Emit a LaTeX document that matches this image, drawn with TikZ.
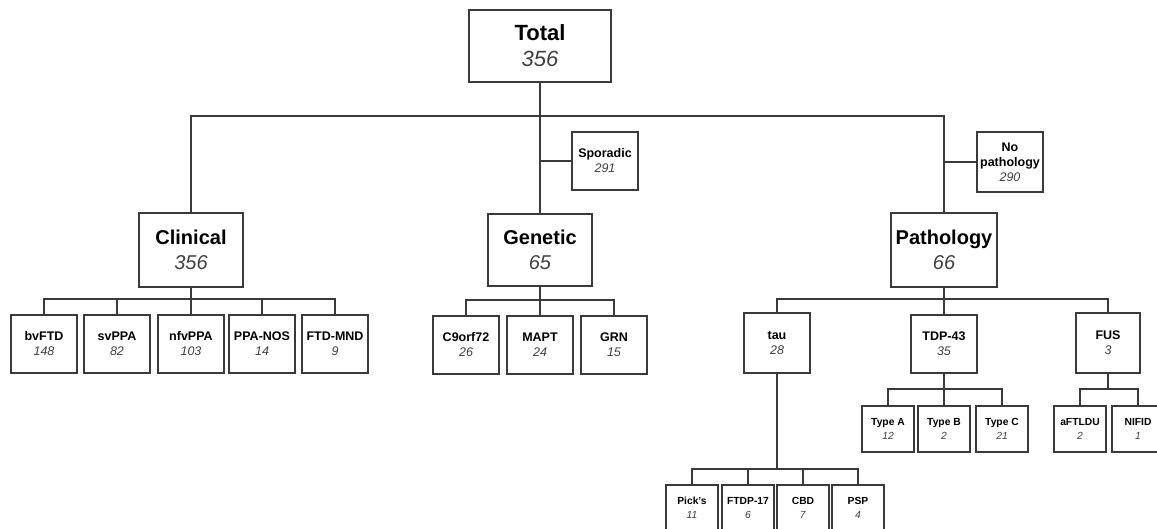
\documentclass[tikz,border=0pt]{standalone}
\usepackage{fontspec}
\setmainfont{Liberation Sans}
\usetikzlibrary{calc}
\definecolor{numgray}{HTML}{404040}
\definecolor{linegray}{HTML}{3A3A3A}
\newcommand{\lab}[2]{\textbf{#1}\\\textcolor{numgray}{\textit{#2}}}
\tikzset{
  box/.style={draw=linegray, line width=1.7pt, fill=white, align=center, inner sep=0pt},
  huge/.style={box, font=\fontsize{22}{26}\selectfont},
  big/.style={box, font=\fontsize{20}{25}\selectfont},
  mid/.style={box, font=\fontsize{12.5}{15}\selectfont},
  small/.style={box, font=\fontsize{10.3}{14}\selectfont},
  conn/.style={draw=linegray, line width=1.7pt},
}
\begin{document}
\begin{tikzpicture}[x=1pt, y=-1pt]
\clip (0,0) rectangle (1157,528);
\fill[white] (0,0) rectangle (1157,528);
% top level
\node[huge, minimum width=142pt, minimum height=72pt] (total) at (540,46) {\lab{Total}{356}};
\node[big, minimum width=104pt, minimum height=74pt] (clinical) at (191,250) {\lab{Clinical}{356}};
\node[big, minimum width=104pt, minimum height=72pt] (genetic) at (540,250) {\lab{Genetic}{65}};
\node[big, minimum width=106pt, minimum height=74pt] (pathology) at (944,250) {\lab{Pathology}{66}};
\node[mid, minimum width=66pt, minimum height=58pt] (sporadic) at (605,161) {\lab{Sporadic}{291}};
\node[mid, minimum width=66pt, minimum height=60pt] (nopath) at (1010,162) {\textbf{No}\\\textbf{pathology}\\\textcolor{numgray}{\textit{290}}};
% clinical children
\node[mid, minimum width=66pt, minimum height=58pt] (bvftd) at (44,344) {\lab{bvFTD}{148}};
\node[mid, minimum width=66pt, minimum height=58pt] (svppa) at (117,344) {\lab{svPPA}{82}};
\node[mid, minimum width=66pt, minimum height=58pt] (nfvppa) at (191,344) {\lab{nfvPPA}{103}};
\node[mid, minimum width=66pt, minimum height=58pt] (ppanos) at (262,344) {\lab{PPA-NOS}{14}};
\node[mid, minimum width=66pt, minimum height=58pt] (ftdmnd) at (335,344) {\lab{FTD-MND}{9}};
% genetic children
\node[mid, minimum width=66pt, minimum height=58pt] (c9) at (466,345) {\lab{C9orf72}{26}};
\node[mid, minimum width=66pt, minimum height=58pt] (mapt) at (540,345) {\lab{MAPT}{24}};
\node[mid, minimum width=66pt, minimum height=58pt] (grn) at (614,345) {\lab{GRN}{15}};
% pathology children
\node[mid, minimum width=66pt, minimum height=60pt] (tau) at (777,343) {\lab{tau}{28}};
\node[mid, minimum width=66pt, minimum height=58pt] (tdp) at (944,344) {\lab{TDP-43}{35}};
\node[mid, minimum width=64pt, minimum height=60pt] (fus) at (1108,343) {\lab{FUS}{3}};
% TDP-43 children
\node[small, minimum width=52pt, minimum height=46pt] (typea) at (888,429) {\lab{Type A}{12}};
\node[small, minimum width=52pt, minimum height=46pt] (typeb) at (944,429) {\lab{Type B}{2}};
\node[small, minimum width=52pt, minimum height=46pt] (typec) at (1002,429) {\lab{Type C}{21}};
% FUS children
\node[small, minimum width=52pt, minimum height=46pt] (aftldu) at (1080,429) {\lab{aFTLDU}{2}};
\node[small, minimum width=52pt, minimum height=46pt] (nifid) at (1138,429) {\lab{NIFID}{1}};
% tau children
\node[small, minimum width=52pt, minimum height=46pt] (picks) at (692,508) {\lab{Pick's}{11}};
\node[small, minimum width=52pt, minimum height=46pt] (ftdp) at (748,508) {\lab{FTDP-17}{6}};
\node[small, minimum width=52pt, minimum height=46pt] (cbd) at (803,508) {\lab{CBD}{7}};
\node[small, minimum width=52pt, minimum height=46pt] (psp) at (858,508) {\lab{PSP}{4}};
% bar coordinates
\coordinate (mainbar) at (540,116);
\coordinate (cbar) at (191,299);
\coordinate (gbar) at (540,300);
\coordinate (pbar) at (944,299);
\coordinate (tdpbar) at (944,389);
\coordinate (fusbar) at (1108,389);
\coordinate (taubar) at (777,469);
% connectors
\draw[conn] (total.south) -- (genetic.north);
\draw[conn] (clinical.north) |- (mainbar) -| (pathology.north);
\draw[conn] (sporadic.west) -- (sporadic.west -| genetic.north);
\draw[conn] (nopath.west) -- (nopath.west -| pathology.north);
\draw[conn] (clinical.south) -- (cbar);
\draw[conn] (bvftd.north) |- (cbar) -| (ftdmnd.north);
\draw[conn] (svppa.north) -- (svppa.north |- cbar);
\draw[conn] (nfvppa.north) -- (nfvppa.north |- cbar);
\draw[conn] (ppanos.north) -- (ppanos.north |- cbar);
\draw[conn] (genetic.south) -- (gbar);
\draw[conn] (c9.north) |- (gbar) -| (grn.north);
\draw[conn] (mapt.north) -- (mapt.north |- gbar);
\draw[conn] (pathology.south) -- (pbar);
\draw[conn] (tau.north) |- (pbar) -| (fus.north);
\draw[conn] (tdp.north) -- (tdp.north |- pbar);
\draw[conn] (tdp.south) -- (tdpbar);
\draw[conn] (typea.north) |- (tdpbar) -| (typec.north);
\draw[conn] (typeb.north) -- (typeb.north |- tdpbar);
\draw[conn] (fus.south) -- (fusbar);
\draw[conn] (aftldu.north) |- (fusbar) -| (nifid.north);
\draw[conn] (tau.south) -- (taubar);
\draw[conn] (picks.north) |- (taubar) -| (psp.north);
\draw[conn] (ftdp.north) -- (ftdp.north |- taubar);
\draw[conn] (cbd.north) -- (cbd.north |- taubar);
\end{tikzpicture}
\end{document}
